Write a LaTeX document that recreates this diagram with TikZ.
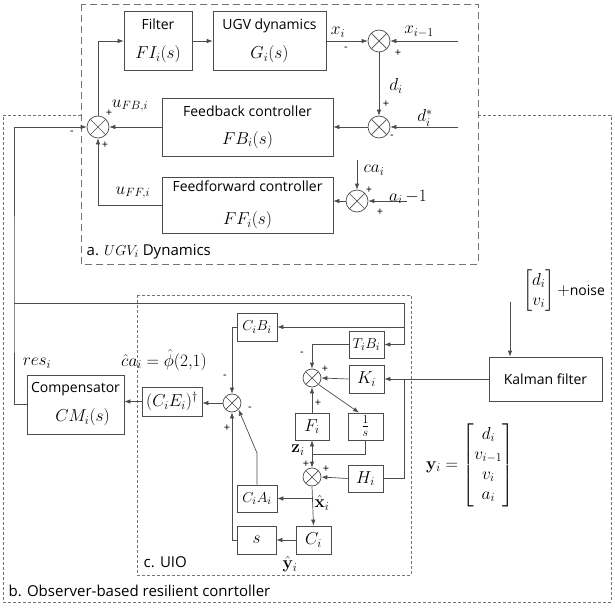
\documentclass[tikz,border=0pt]{standalone}
\usepackage{amsmath}
\usepackage[no-math]{fontspec}
\setmainfont{Open Sans}
\usetikzlibrary{arrows.meta}
\newcommand{\mth}[1]{{\fontsize{17}{20}\selectfont$#1$}}
\newcommand{\mths}[1]{{\fontsize{15}{18}\selectfont$#1$}}

\begin{document}
\begin{tikzpicture}[x=1pt,y=-1pt,line width=0.7pt,color=black!70,
  font=\fontsize{14}{17}\selectfont,
  every node/.append style={text=black},
  >={Latex[length=6pt,width=4.5pt]},
  blk/.style={draw=black!70,inner sep=1pt,align=center},
  sumx/.style={draw=black!70,circle,minimum size=#1,inner sep=0pt,
    path picture={\draw (path picture bounding box.north west)--(path picture bounding box.south east)
      (path picture bounding box.north east)--(path picture bounding box.south west);}},
  sumx/.default=22pt,
  sgn/.style={font=\fontsize{11}{12}\selectfont,inner sep=0pt},
  ttl/.style={anchor=west,font=\fontsize{15}{18}\selectfont},
  frm/.style={draw=black!55,line width=0.6pt}]
\useasboundingbox (0,0) rectangle (615,607);

% frames
\draw[frm,dash pattern=on 7pt off 4pt] (81,4) rectangle (478,264);
\draw[frm,dash pattern=on 3pt off 2pt] (81,115) -- (3,115) -- (3,602) -- (611,602) -- (611,115) -- (478,115);
\draw[frm,dash pattern=on 3pt off 2pt] (137,295) rectangle (411,575);

% a. UGV dynamics
\node[blk,minimum width=68pt,minimum height=59pt] (filt) at (158,41) {Filter\\[12pt]\mth{FI_i(s)}};
\node[blk,minimum width=113pt,minimum height=59pt] (ugv) at (269.5,41) {UGV dynamics\\[12pt]\mth{G_i(s)}};
\node[sumx] (s1) at (379,41) {};
\node[sumx] (s2) at (379,127) {};
\node[blk,minimum width=171pt,minimum height=58pt] (fb) at (247.5,127) {Feedback controller\\[11pt]\mth{FB_i(s)}};
\node[sumx] (s3) at (98,127) {};
\node[blk,minimum width=171pt,minimum height=56pt] (ff) at (247.5,205) {Feedforward controller\\[16pt]\mth{FF_i(s)}};
\node[sumx] (s4) at (357,201) {};

\coordinate (xin) at (458,41);
\coordinate (din) at (458,127);
\coordinate (cain) at (357,160);
\coordinate (ain) at (407,201);

\draw[->] (s3.north) |- (filt.west);
\draw[->] (filt) -- (ugv);
\draw[->] (ugv.east) -- (s1.west);
\draw[->] (xin) -- (s1.east);
\draw[->] (s1.south) -- (s2.north);
\draw[->] (din) -- (s2.east);
\draw[->] (s2.west) -- (fb.east);
\draw[->] (fb.west) -- (s3.east);
\draw[->] (cain) -- (s4.north);
\draw[->] (ain) -- (s4.east);
\draw[->] (s4.west) -- (s4 -| ff.east);
\draw[->] (ff.west) -| (s3.south);

\node (lxi) at (338,32) {\mth{x_i}};
\node (lxim) at (419,32) {\mth{x_{i-1}}};
\node (ldi) at (396,86) {\mth{d_i}};
\node (ldis) at (425,118) {\mth{d_i^*}};
\node (lufb) at (130,106) {\mth{u_{FB,i}}};
\node (luff) at (133,193) {\mth{u_{FF,i}}};
\node (lcai) at (374,170) {\mth{ca_i}};
\node (lai) at (408,197) {\mth{a_i\,{-}1}};
\node[sgn] at (346,49) {-};
\node[sgn] at (398,53) {+};
\node[sgn] at (386,104) {+};
\node[sgn] at (392,137) {-};
\node[sgn] at (109,113) {+};
\node[sgn] at (105,145) {+};
\node[sgn] at (72,133) {-};
\node[sgn] at (369,190) {+};
\node[sgn] at (380,212) {+};

% b. compensator and c. UIO
\node[blk,minimum width=97pt,minimum height=59pt] (cm) at (75.5,404.5) {Compensator\\[12pt]\hspace*{14pt}\mth{CM_i(s)}};
\node[blk,minimum width=60pt,minimum height=29pt] (ce) at (172,401.5) {\mth{(C_iE_i)^\dagger}};
\node[sumx=18pt] (s5) at (232,403) {};
\node[blk,minimum width=40pt,minimum height=28pt] (cb) at (257,327) {\mths{C_iB_i}};
\node[blk,minimum width=40pt,minimum height=27pt] (ca) at (257,498.5) {\mths{C_iA_i}};
\node[blk,minimum width=39pt,minimum height=28pt] (sb) at (256.5,540) {\mth{s}};
\node[blk,minimum width=35pt,minimum height=28pt] (ci) at (313.5,540) {\mth{C_i}};
\node[blk,minimum width=35pt,minimum height=27pt] (tb) at (366.5,344.5) {\mths{T_iB_i}};
\node[sumx=18pt] (s6) at (312,378) {};
\node[blk,minimum width=35pt,minimum height=28pt] (ki) at (366.5,379) {\mth{K_i}};
\node[blk,minimum width=34pt,minimum height=27pt] (fi) at (312,426.5) {\mth{F_i}};
\node[blk,minimum width=35pt,minimum height=27pt] (is) at (365.5,426.5) {\mth{\frac{1}{s}}};
\node[sumx=18pt] (s7) at (312,477) {};
\node[blk,minimum width=35pt,minimum height=27pt] (hi) at (365.5,478.5) {\mth{H_i}};
\node[blk,minimum width=113pt,minimum height=44pt] (kf) at (545.5,379) {Kalman filter};

\coordinate (lc) at (14,303);
\coordinate (rc) at (404,303);
\coordinate (kj) at (404,379);
\coordinate (cbend) at (257,453);
\coordinate (zj) at (312,454);
\coordinate (xj) at (312,498.5);
\coordinate (nin) at (510,302);

\draw[->] (cm.west) -| (lc) |- (s3.west);
\draw (lc) -- (rc);
\draw[->] (rc) |- (tb.east);
\draw[->] (rc |- cb) -- (cb.east);
\draw[->] (cb.west) -| (s5.north);
\draw[->] (s5.west) -- (s5 -| ce.east);
\draw[->] (ce.west) -- (ce -| cm.east);
\draw[->] (ca.north) -- (cbend) -- (s5.south east);
\draw[->] (sb.west) -| (s5.south);
\draw[->] (ci.west) -- (sb.east);
\draw[->] (tb.west) -| (s6.north);
\draw[->] (ki.west) -- (s6.east);
\draw[->] (fi.north) -- (s6.south);
\draw[->] (s6.south east) -- (is.115);
\draw (is.south) |- (zj);
\draw[->] (zj) -- (fi.south);
\draw[->] (zj) -- (s7.north);
\draw[->] (hi.west) -- (s7.east);
\draw[->] (s7.south) -- (ci.north);
\draw[->] (xj) -- (ca.east);
\draw[->] (kf.west) -- (ki.east);
\draw (kj) |- (hi.east);
\draw[->] (nin) -- (nin |- kf.north);

\node (lres) at (37,363) {\mth{res_i}};
\node (lcah) at (164,360) {\mth{\hat{c}a_i=\hat{\phi}(2{,}1)}};
\node (lzi) at (298,450) {\mth{\mathbf{z}_i}};
\node (lxh) at (322,503) {\mth{\hat{\mathbf{x}}_i}};
\node (lyh) at (290,564) {\mth{\hat{\mathbf{y}}_i}};
\node (lnz) at (564,291) {\mth{\begin{bmatrix}d_i\\ v_i\end{bmatrix}+}noise};
\node (lyi) at (470,465) {\mth{\mathbf{y}_i=\begin{bmatrix}d_i\\ v_{i-1}\\ v_i\\ a_i\end{bmatrix}}};
\node[sgn] at (225,377) {-};
\node[sgn] at (250,409) {-};
\node[sgn] at (227,428) {+};
\node[sgn] at (302,354) {-};
\node[sgn] at (325,369) {+};
\node[sgn] at (318,403) {+};
\node[sgn] at (306,464) {+};
\node[sgn] at (326,469) {+};

% section titles
\node[ttl] (ttla) at (83,252) {a. $UGV_i$ Dynamics};
\node[ttl] (ttlc) at (140,562) {c. UIO};
\node[ttl] (ttlb) at (5,591) {b. Observer-based resilient conrtoller};
\end{tikzpicture}
\end{document}
